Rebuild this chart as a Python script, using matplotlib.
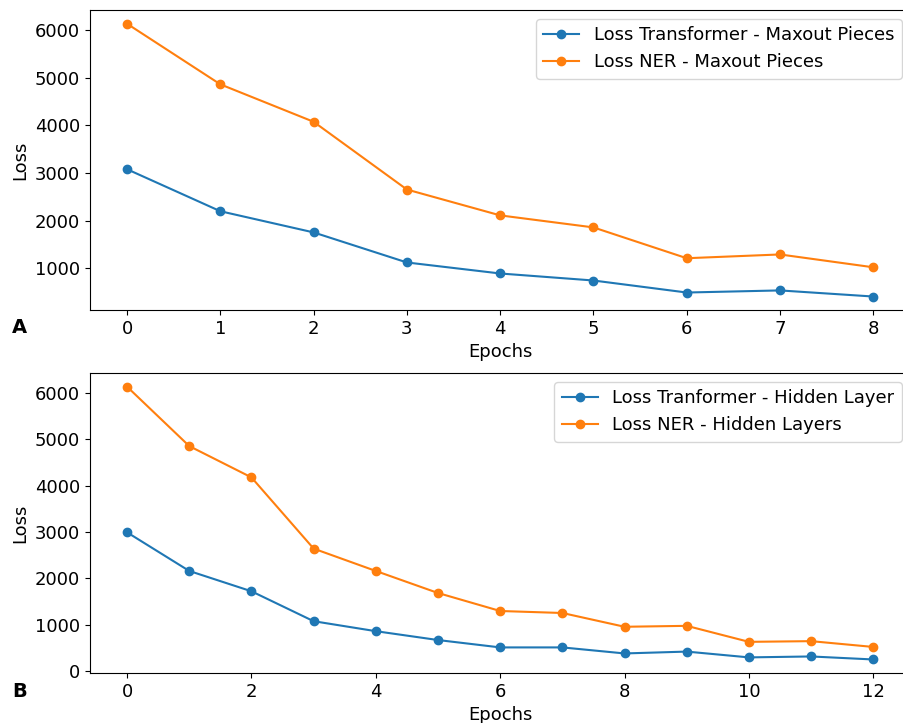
import matplotlib
matplotlib.use("Agg")
import matplotlib.pyplot as plt

# panel A - maxout pieces
epochs_a = list(range(9))
trf_maxout = [3080, 2200, 1756, 1126, 895, 748, 496, 540, 412]
ner_maxout = [6130, 4860, 4075, 2655, 2113, 1861, 1215, 1294, 1025]

# panel B - hidden layers
epochs_b = list(range(13))
trf_hidden = [2990, 2158, 1720, 1075, 860, 669, 510, 510, 380, 420, 295, 315, 250]
ner_hidden = [6130, 4850, 4175, 2640, 2158, 1683, 1295, 1252, 955, 975, 630, 645, 520]

plt.rcParams['font.size'] = 13

fig = plt.figure(figsize=(9.04, 7.23), dpi=100)
# right spine sits just outside the picture, as in the original crop
ax1 = fig.add_axes([0.0993, 0.571, 0.908, 0.415])
ax2 = fig.add_axes([0.0993, 0.069, 0.908, 0.415])

ax1.plot(epochs_a, trf_maxout, marker='o', label='Loss Transformer - Maxout Pieces')
ax1.plot(epochs_a, ner_maxout, marker='o', label='Loss NER - Maxout Pieces')
ax1.set_xlabel('Epochs')
ax1.set_ylabel('Loss')
ax1.legend(loc='upper right')

ax2.plot(epochs_b, trf_hidden, marker='o', label='Loss Tranformer - Hidden Layer')
ax2.plot(epochs_b, ner_hidden, marker='o', label='Loss NER - Hidden Layers')
ax2.set_xlabel('Epochs')
ax2.set_ylabel('Loss')
ax2.legend(loc='upper right')

fig.text(0.013, 0.54, 'A', fontsize=14, fontweight='bold')
fig.text(0.013, 0.036, 'B', fontsize=14, fontweight='bold')

fig.savefig('out.png', dpi=100)
